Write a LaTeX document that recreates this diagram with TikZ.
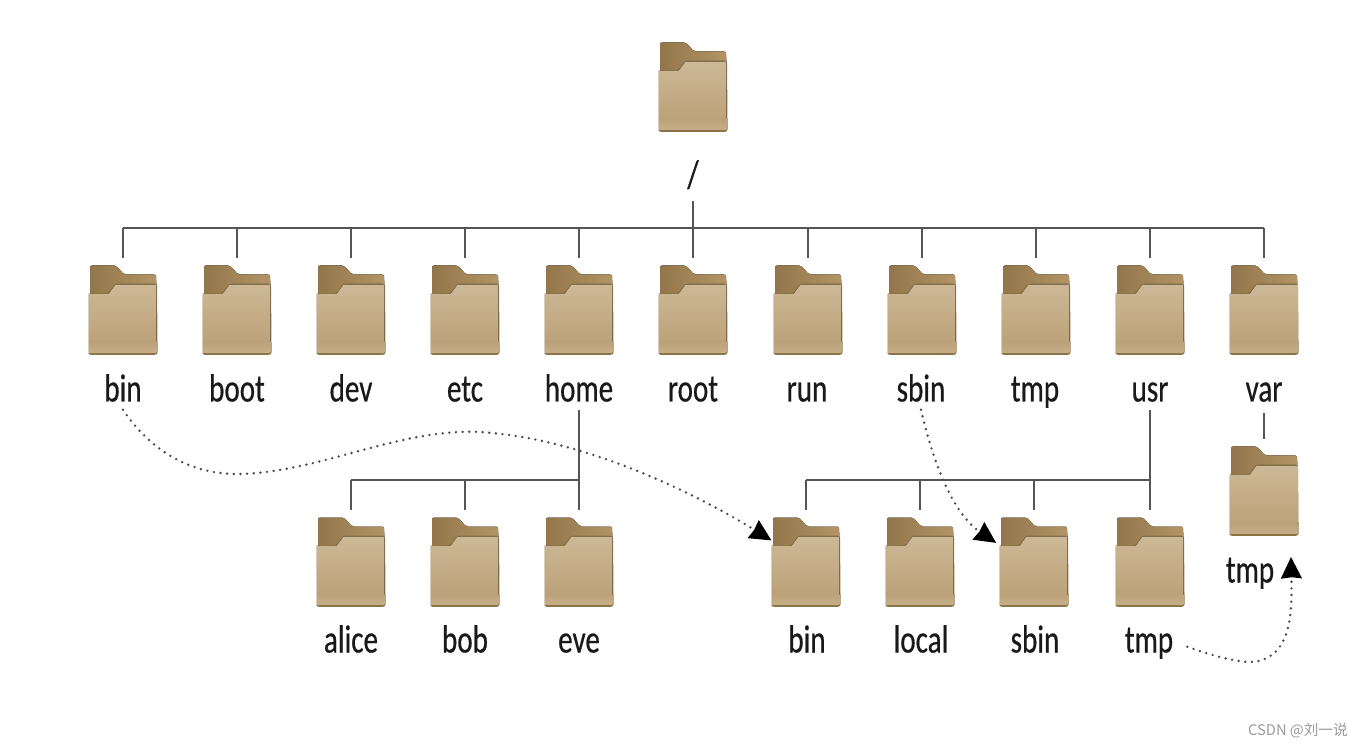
\documentclass[tikz,border=0pt]{standalone}
\usepackage{xcolor}
\usepackage{fontspec}
\usepackage{tikz}
\usetikzlibrary{arrows.meta}
\setmainfont[FakeStretch=0.74,FakeBold=0.5]{Carlito}
\newfontfamily\markFont{Noto Sans CJK SC}
\definecolor{folderTab}{HTML}{AC8B58}
\definecolor{folderTop}{HTML}{CDB896}
\definecolor{folderLow}{HTML}{BCA27A}
\definecolor{folderBand}{HTML}{C6AE88}
\definecolor{folderEdge}{HTML}{8A7448}
\definecolor{treeGri}{HTML}{555555}
\definecolor{dotGri}{HTML}{4A4A4A}
\definecolor{markGri}{HTML}{9A9A9A}
\tikzset{
  folder/.style={minimum width=51.75pt,minimum height=67.5pt,inner sep=0pt,outer sep=0pt,
    path picture={
      \begin{scope}[shift={(path picture bounding box.center)}]
      \fill[left color=folderTab!85!black,right color=folderTab!92!white,rounded corners=1.5pt] (-33,-44.5)--(-7,-44.5)--(1,-35.5)--(33,-35.5)--(34,-10)--(-33,-10)--cycle;
      \fill[folderEdge,rounded corners=2pt] (-35,-17)--(-15,-17)--(-8,-26.5)--(34,-26.5)--(34.6,44.8)--(-35,44.8)--cycle;
      \fill[top color=folderTop,bottom color=folderLow] (-33.8,-15.8)--(-14.5,-15.8)--(-7.5,-25.4)--(33.4,-25.4)--(33.4,32.2)--(-33.8,32.2)--cycle;
      \fill[top color=folderLow,bottom color=folderBand] (-33.8,32)--(33.4,32)--(33.4,42.8)--(-33.8,42.8)--cycle;
      \end{scope}
    }},
  nameText/.style={font=\fontsize{29.5}{30}\selectfont,text=black!90,inner sep=0pt,text height=21.75pt,text depth=6pt},
  treeLine/.style={treeGri,line width=2pt},
  dropLine/.style={treeLine,shorten >=5.25pt},
  linkLine/.style={dotGri,line width=2pt,line cap=round,dash pattern=on 0pt off 5pt,-{Stealth[length=16pt,width=15.5pt,inset=0.8pt,black]}}
}
\begin{document}
\begin{tikzpicture}[x=0.75pt,y=-0.75pt]
\useasboundingbox (0,0) rectangle (1364,748);
% top level
\node[folder] (rootDir) at (693,87) {};
\node[nameText] (slashText) at (693,177) {/};
\node[folder] (binDir) at (123,310) {};
\node[folder] (bootDir) at (237,310) {};
\node[folder] (devDir) at (351,310) {};
\node[folder] (etcDir) at (465,310) {};
\node[folder] (homeDir) at (579,310) {};
\node[folder] (rootHomeDir) at (693,310) {};
\node[folder] (runDir) at (808,310) {};
\node[folder] (sbinDir) at (922,310) {};
\node[folder] (tmpDir) at (1036,310) {};
\node[folder] (usrDir) at (1150,310) {};
\node[folder] (varDir) at (1264,310) {};
\node[nameText] (binText) at (123,391) {bin};
\node[nameText] (bootText) at (237,391) {boot};
\node[nameText] (devText) at (351,391) {dev};
\node[nameText] (etcText) at (465,391) {etc};
\node[nameText] (homeText) at (579,391) {home};
\node[nameText] (rootText) at (693,391) {root};
\node[nameText] (runText) at (807,391) {run};
\node[nameText] (sbinText) at (921,391) {sbin};
\node[nameText] (tmpText) at (1035,391) {tmp};
\node[nameText] (usrText) at (1150,391) {usr};
\node[nameText] (varText) at (1264,391) {var};
% second level
\node[folder] (aliceDir) at (351,562) {};
\node[folder] (bobDir) at (465,562) {};
\node[folder] (eveDir) at (579,562) {};
\node[folder] (usrBinDir) at (806,562) {};
\node[folder] (localDir) at (920,562) {};
\node[folder] (usrSbinDir) at (1034,562) {};
\node[folder] (usrTmpDir) at (1150,562) {};
\node[folder] (varTmpDir) at (1264,491) {};
\node[nameText] (aliceText) at (351,642) {alice};
\node[nameText] (bobText) at (465,642) {bob};
\node[nameText] (eveText) at (579,642) {eve};
\node[nameText] (usrBinText) at (807,642) {bin};
\node[nameText] (localText) at (921,642) {local};
\node[nameText] (usrSbinText) at (1035,642) {sbin};
\node[nameText] (usrTmpText) at (1149,642) {tmp};
\node[nameText] (varTmpText) at (1250,572) {tmp};
\coordinate (rootBus) at (693,228);
\coordinate (homeBus) at (580,480);
\coordinate (usrBus) at (1150,480);
\coordinate (varTmpTip) at (1291,557);
% tree lines
\draw[dropLine,shorten <=3.75pt] (slashText) -- (rootHomeDir);
\draw[treeLine] (binDir |- rootBus) -- (varDir |- rootBus);
\draw[dropLine] (binDir |- rootBus) -- (binDir);
\draw[dropLine] (bootDir |- rootBus) -- (bootDir);
\draw[dropLine] (devDir |- rootBus) -- (devDir);
\draw[dropLine] (etcDir |- rootBus) -- (etcDir);
\draw[dropLine] (homeDir |- rootBus) -- (homeDir);
\draw[dropLine] (runDir |- rootBus) -- (runDir);
\draw[dropLine] (sbinDir |- rootBus) -- (sbinDir);
\draw[dropLine] (tmpDir |- rootBus) -- (tmpDir);
\draw[dropLine] (usrDir |- rootBus) -- (usrDir);
\draw[dropLine] (varDir |- rootBus) -- (varDir);
\draw[dropLine] (homeText) -- (eveDir);
\draw[treeLine] (aliceDir |- homeBus) -- (homeBus);
\draw[dropLine] (aliceDir |- homeBus) -- (aliceDir);
\draw[dropLine] (bobDir |- homeBus) -- (bobDir);
\draw[dropLine] (usrText) -- (usrTmpDir);
\draw[treeLine] (usrBinDir |- usrBus) -- (usrBus);
\draw[dropLine] (usrBinDir |- usrBus) -- (usrBinDir);
\draw[dropLine] (localDir |- usrBus) -- (localDir);
\draw[dropLine] (usrSbinDir |- usrBus) -- (usrSbinDir);
\draw[dropLine,shorten <=2.25pt] (varText) -- (varTmpDir);
% links
\draw[linkLine] (binText.south) .. controls (150,450) and (190,475) .. (240,474) .. controls (320,472) and (400,428) .. (480,432) .. controls (580,438) and (690,490) .. (usrBinDir.148);
\draw[linkLine,shorten >=3pt] (sbinText.south) .. controls (935,470) and (955,515) .. (usrSbinDir.154);
\draw[linkLine,shorten <=11pt] (usrTmpText.east) .. controls (1225,660) and (1250,665) .. (1262,660) .. controls (1292,650) and (1292,610) .. (varTmpTip);
\node[font=\markFont\fontsize{11}{12}\selectfont,text=markGri,inner sep=0pt] (markText) at (1298,731) {CSDN @刘一说};
\end{tikzpicture}
\end{document}
